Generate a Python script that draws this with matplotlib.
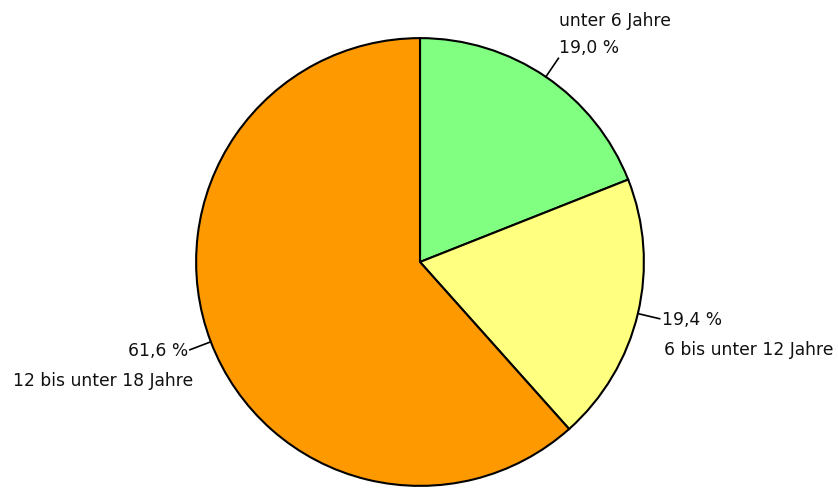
import matplotlib.pyplot as plt
import numpy as np

categories = ['unter 6 Jahre', '6 bis unter 12 Jahre', '12 bis unter 18 Jahre']
shares = [19.0, 19.4, 61.6]
colors = ['#80ff80', '#ffff80', '#ff9900']

# label placement per slice: (ha, va of percent, pixel offset of percent, pixel offset of category)
layout = [
    ('left', 'bottom', (1, 2), (1, 29)),
    ('left', 'center', (2, 0), (4, -30)),
    ('right', 'center', (-2, 0), (3, -30)),
]

fig = plt.figure(figsize=(8.38, 4.89), dpi=100)
ax = fig.add_axes([195 / 838, 1 / 489, 450 / 838, 450 / 489])

wedges, _ = ax.pie(shares, colors=colors, startangle=90, counterclock=False,
                   wedgeprops=dict(edgecolor='black', linewidth=1.5))
ax.set_aspect('equal')
ax.set_xlim(-1.005, 1.005)
ax.set_ylim(-1.005, 1.005)
ax.axis('off')

for w, cat, val, (ha, va, off_p, off_c) in zip(wedges, categories, shares, layout):
    ang = np.deg2rad((w.theta1 + w.theta2) / 2)
    x0, y0 = np.cos(ang), np.sin(ang)
    x1, y1 = 1.1 * x0, 1.1 * y0
    ax.plot([x0, x1], [y0, y1], color='black', lw=1.2, clip_on=False)
    pct = f'{val:.1f} %'.replace('.', ',')
    ax.annotate(pct, (x1, y1), xytext=off_p, textcoords='offset pixels',
                ha=ha, va=va, fontsize=12.3, color='#111111',
                annotation_clip=False)
    ax.annotate(cat, (x1, y1), xytext=off_c, textcoords='offset pixels',
                ha=ha, va=va, fontsize=12.3, color='#111111',
                annotation_clip=False)

fig.savefig('out.png', dpi=100)
